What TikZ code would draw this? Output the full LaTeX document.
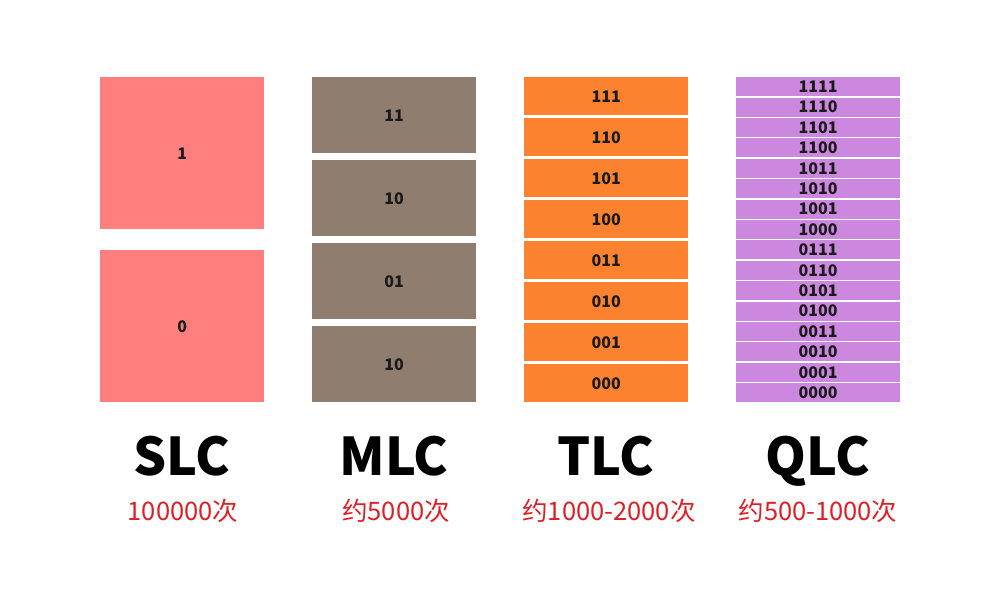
\documentclass[tikz,border=0pt]{standalone}
\usepackage{fontspec}
\setmainfont{Noto Sans CJK SC}
\definecolor{slcc}{HTML}{FF7F7F}
\definecolor{mlcc}{HTML}{8F7E6F}
\definecolor{tlcc}{HTML}{FD8230}
\definecolor{qlcc}{HTML}{CC88DE}
\definecolor{redt}{HTML}{DA2128}
\definecolor{txt}{HTML}{1A1A1A}
\tikzset{
  cell/.style={draw=none, fill=#1, anchor=north west, inner sep=0pt, minimum width=164pt,
    text=txt, font=\fontsize{16}{16}\selectfont\bfseries},
  title/.style={font=\fontsize{52}{52}\selectfont\bfseries, text=black, inner sep=0pt, anchor=base},
  cyc/.style={font=\fontsize{25.5}{25.5}\selectfont, text=redt, inner sep=0pt, anchor=base}
}
\begin{document}
\begin{tikzpicture}[x=1pt,y=-1pt]
\useasboundingbox[fill=white] (0,0) rectangle (1000,600);
% SLC
\node[cell=slcc, minimum height=152pt] (s1) at (100,77) {1};
\node[cell=slcc, minimum height=152pt] (s0) at (100,250) {0};
% MLC
\foreach \lab [count=\i from 0] in {11,10,01,10}{
  \node[cell=mlcc, minimum height=76pt] (m\i) at (312,77+83*\i) {\lab};
}
% TLC
\foreach \lab [count=\i from 0] in {111,110,101,100,011,010,001,000}{
  \node[cell=tlcc, minimum height=38pt] (t\i) at (524,77+41*\i) {\lab};
}
% QLC
\foreach \lab [count=\i from 0] in {1111,1110,1101,1100,1011,1010,1001,1000,0111,0110,0101,0100,0011,0010,0001,0000}{
  \node[cell=qlcc, minimum height=18.9pt] (q\i) at (736,77+20.4*\i) {\lab};
}
% titles
\node[title] (ls) at (182,475) {SLC};
\node[title] (lm) at (394,475) {MLC};
\node[title] (lt) at (606,475) {TLC};
\node[title] (lq) at (818,475) {QLC};
% cycles
\node[cyc] (cs) at (183,520) {100000次};
\node[cyc] (cm) at (396,520) {约5000次};
\node[cyc] (ct) at (609,520) {约1000-2000次};
\node[cyc] (cq) at (818,520) {约500-1000次};
\end{tikzpicture}
\end{document}
